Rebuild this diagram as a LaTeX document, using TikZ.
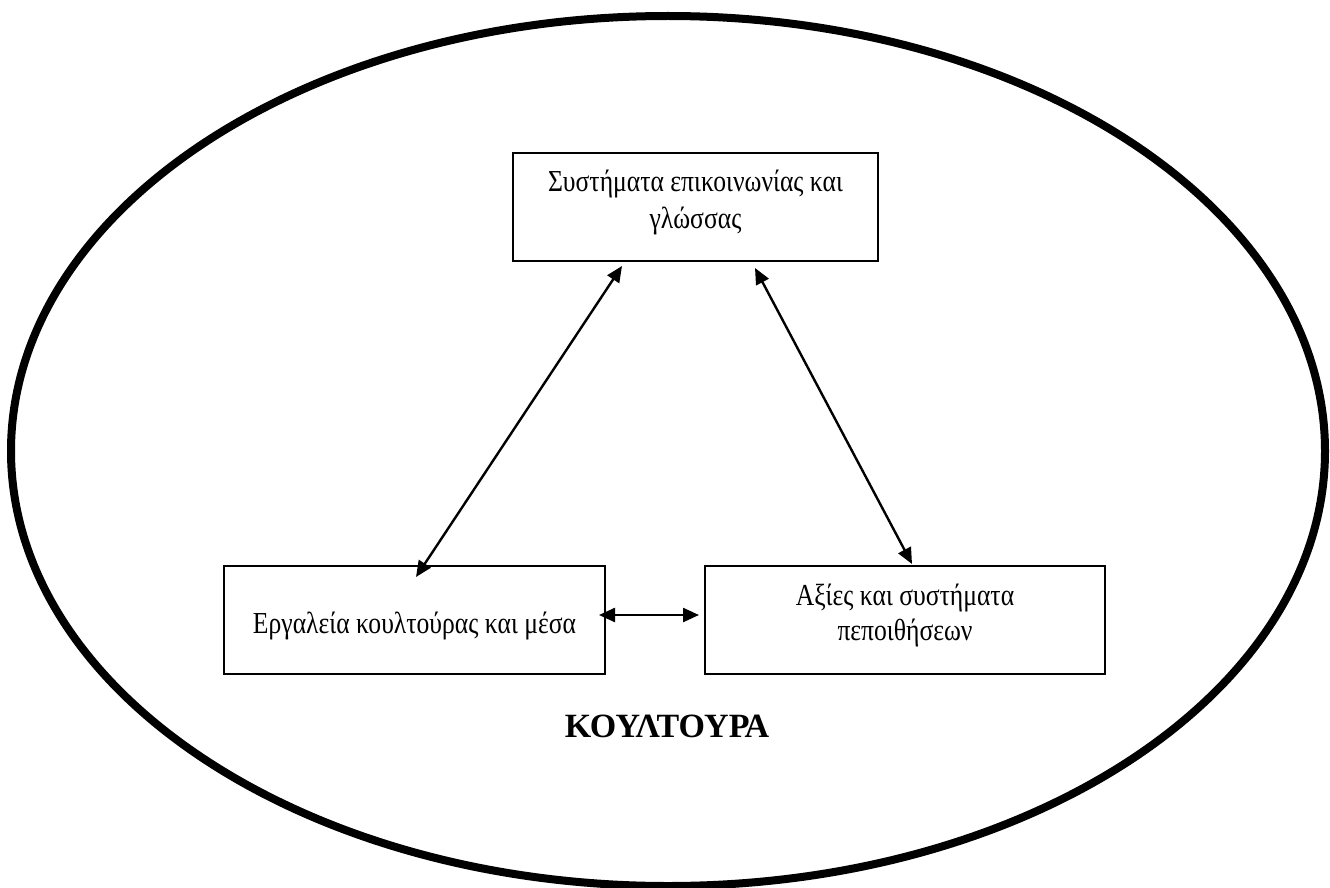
\documentclass[tikz,border=0pt]{standalone}
\usepackage{fontspec}
\setmainfont{Liberation Serif}
\newfontfamily\boxfont[FakeStretch=0.84]{Liberation Serif}
\usetikzlibrary{arrows.meta,calc,shapes.geometric}
\begin{document}
\begin{tikzpicture}[x=1pt,y=-1pt,
  box/.style={draw,line width=2pt,inner sep=0pt,align=center,font=\boxfont\fontsize{30.5}{37}\selectfont},
  biarrow/.style={line width=2.4pt,{Triangle[length=16pt,width=14pt]}-{Triangle[length=16pt,width=14pt]}}]
\useasboundingbox (0,0) rectangle (1330,888);
\node[draw,ellipse,line width=8pt,inner sep=0pt,minimum width=1314pt,minimum height=870pt] (culture) at (668,451) {};
\node[box,minimum width=365pt,minimum height=108pt,text height=50pt,text depth=8pt] (top) at (695.5,207) {Συστήματα επικοινωνίας και\\γλώσσας};
\node[box,minimum width=381pt,minimum height=108pt,text height=32pt,text depth=6pt] (left) at (414.5,620) {Εργαλεία κουλτούρας και μέσα};
\node[box,minimum width=400pt,minimum height=108pt,text height=48pt,text depth=8pt,font=\boxfont\fontsize{30.5}{35}\selectfont] (right) at (905,620) {Αξίες και συστήματα\\πεποιθήσεων};
\node[font=\fontsize{34}{38}\selectfont\bfseries] (label) at (667,726) {ΚΟΥΛΤΟΥΡΑ};
\draw[biarrow] ([xshift=-73.5pt,yshift=-4pt]top.south) -- ([xshift=1.5pt,yshift=-12pt]left.north);
\draw[biarrow] ([xshift=59.5pt,yshift=-6pt]top.south) -- ([xshift=7pt,yshift=1pt]right.north);
\draw[biarrow] ([xshift=-7pt,yshift=5pt]left.east) -- ([xshift=-5pt,yshift=5pt]right.west);
\end{tikzpicture}
\end{document}
